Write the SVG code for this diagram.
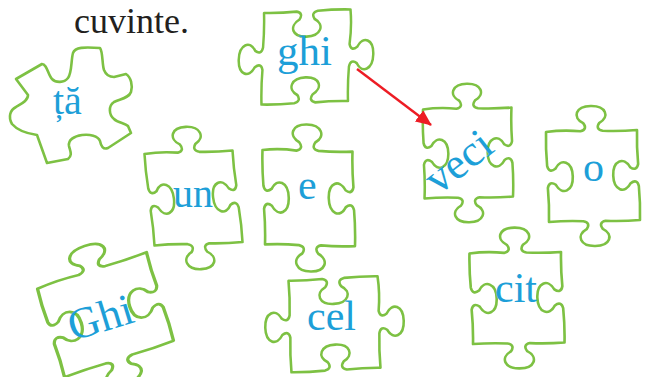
<svg xmlns="http://www.w3.org/2000/svg" xmlns:xlink="http://www.w3.org/1999/xlink" width="650" height="377" viewBox="0 0 650 377">
<style>
.pc{fill:#ffffff;stroke:#7dc143;stroke-width:2.6;stroke-linejoin:round;vector-effect:non-scaling-stroke}
.tx{font-family:"Liberation Serif","DejaVu Serif","Times New Roman",serif}
.lb{fill:#1d9fd8}
.conn{stroke:#ed1c24;stroke-width:2.4;fill:none}
</style>
<defs>
<path id="p" d="M-45,-45 Q-28,-47 -11,-45 C-6,-46 -5,-49 -8,-53 C-19,-59 -15,-70 0,-70 C15,-70 19,-59 8,-53 C5,-49 6,-46 11,-45 Q28,-44 45,-45 Q44,-28 45,-11 C44,-6 41,-5 37,-8 C31,-19 20,-15 20,0 C20,15 31,19 37,8 C41,5 44,6 45,11 Q46,28 45,45 Q28,46 11,45 C6,46 5,49 8,53 C19,59 15,70 0,70 C-15,70 -19,59 -8,53 C-5,49 -6,46 -11,45 Q-28,44 -45,45 Q-44,28 -45,11 C-44,6 -41,5 -37,8 C-31,19 -20,15 -20,0 C-20,-15 -31,-19 -37,-8 C-41,-5 -44,-6 -45,-11 Q-46,-28 -45,-45 Z"/>
<marker id="ah" markerUnits="userSpaceOnUse" markerWidth="16" markerHeight="14" refX="15" refY="7" orient="auto">
<path d="M0,0 L16,7 L0,14 Z" fill="#ed1c24"/>
</marker>
</defs>
<text class="tx" x="74" y="33" font-size="36" fill="#231f20">cuvinte.</text>
<g id="node-ta">
<path class="pc" d="M16,79 L42,64 C47,64 48,75 52,79 C56,83 64,83 68,78 C72,73 71,60 73,53 C75,47 84,47 100,48 C103,52 102,64 104,70 C106,75 109,77 114,77 L126,74 C131,77 133,86 131,92 C129,98 120,99 114,102 C108,106 109,115 114,119 C118,123 125,123 128,126 L131,133 L108,148 C103,150 101,146 100,141 C98,136 90,134 82,135 C74,136 68,140 69,146 C70,151 73,155 68,159 L47,163 L37,135 C30,134 18,131 12,124 C8,117 10,110 16,107 C21,104 28,101 28,95 Z"/>
<text class="tx lb" x="53" y="114" font-size="40">ță</text>
</g>
<g id="node-ghi">
<use xlink:href="#p" class="pc" transform="matrix(-0.028,1.017,-0.961,0.039,306,57)"/>
<text class="tx lb" x="277" y="65" font-size="43">ghi</text>
</g>
<g id="node-un">
<use xlink:href="#p" class="pc" transform="matrix(0.978,-0.039,0.111,1.017,193.5,198)"/>
<text class="tx lb" x="173" y="207" font-size="40">un</text>
</g>
<g id="node-e">
<use xlink:href="#p" class="pc" transform="matrix(1.0,0.017,0.028,1.05,308.75,198)"/>
<text class="tx lb" x="298" y="199" font-size="42">e</text>
</g>
<g id="node-veci">
<use xlink:href="#p" class="pc" transform="matrix(0.983,-0.022,0.017,0.989,468,153)"/>
<text class="tx lb" font-size="44" text-anchor="middle" transform="translate(461,165) rotate(-38)" x="0" y="10">veci</text>
</g>
<g id="node-o">
<use xlink:href="#p" class="pc" transform="matrix(1.011,-0.022,0.033,1.0,593,176)"/>
<text class="tx lb" x="583" y="181" font-size="42">o</text>
</g>
<g id="node-Ghi">
<use xlink:href="#p" class="pc" transform="matrix(1.211,-0.406,0.3,0.983,105.5,314.75)"/>
<text class="tx lb" font-size="44" transform="translate(73,341) rotate(-17)">Ghi</text>
</g>
<g id="node-cel">
<use xlink:href="#p" class="pc" transform="matrix(0.033,1.017,-0.989,0.05,334.5,324.25)"/>
<text class="tx lb" x="307" y="330" font-size="42">cel</text>
</g>
<g id="node-cit">
<use xlink:href="#p" class="pc" transform="matrix(1.017,-0.017,0.039,1.006,517,298)"/>
<text class="tx lb" x="495" y="302" font-size="42">cit</text>
</g>
<g id="connectors">
<line class="conn" x1="357" y1="69" x2="431" y2="125" marker-end="url(#ah)"/>
</g>
</svg>
